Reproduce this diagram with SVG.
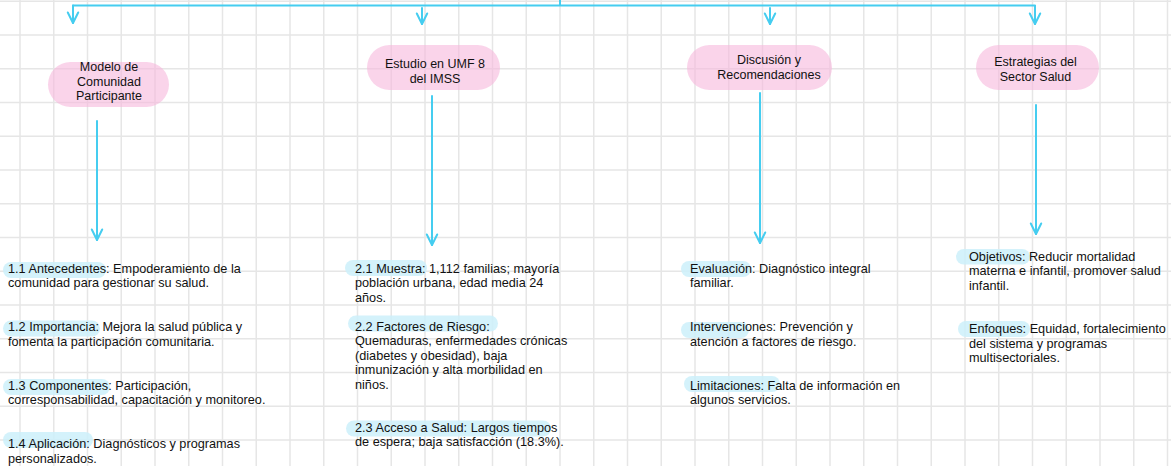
<svg xmlns="http://www.w3.org/2000/svg" width="1171" height="466" viewBox="0 0 1171 466">
<defs>
<style>
.grid{stroke:#e6e6e6;stroke-width:1.5;fill:none}
.conn{stroke:#45cdf0;stroke-width:2;fill:none;stroke-linecap:round;stroke-linejoin:round}
.pill{fill:#f7b8dc;fill-opacity:0.6}
.hl{fill:#cdf0fa;fill-opacity:0.85}
.nt{font-family:"Liberation Sans",Arial,Helvetica,sans-serif;font-size:12.5px;fill:#111111;text-anchor:middle}
.bt{font-family:"Liberation Sans",Arial,Helvetica,sans-serif;font-size:12.7px;fill:#111111}
</style>
<marker id="ah" markerUnits="userSpaceOnUse" markerWidth="14" markerHeight="14" refX="0" refY="0" orient="auto" overflow="visible">
<path d="M-10.5,-5.2 L0,0 L-10.5,5.2" fill="none" stroke="#45cdf0" stroke-width="2" stroke-linecap="round" stroke-linejoin="round"/>
</marker>
</defs>
<rect width="1171" height="466" fill="#ffffff"/>
<path class="grid" d="M20,0V466M53.75,0V466M87.5,0V466M121.25,0V466M155,0V466M188.75,0V466M222.5,0V466M256.25,0V466M290,0V466M323.75,0V466M357.5,0V466M391.25,0V466M425,0V466M458.75,0V466M492.5,0V466M526.25,0V466M560,0V466M593.75,0V466M627.5,0V466M661.25,0V466M695,0V466M728.75,0V466M762.5,0V466M796.25,0V466M830,0V466M863.75,0V466M897.5,0V466M931.25,0V466M965,0V466M998.75,0V466M1032.5,0V466M1066.25,0V466M1100,0V466M1133.75,0V466M1167.5,0V466M0,1.25H1171M0,35H1171M0,68.75H1171M0,102.5H1171M0,136.25H1171M0,170H1171M0,203.75H1171M0,237.5H1171M0,271.25H1171M0,305H1171M0,338.75H1171M0,372.5H1171M0,406.25H1171M0,440H1171"/>
<g id="connectors">
<path class="conn" d="M560,0V5.5M73,5.5H1035V6"/>
<path class="conn" d="M73,5.5V23" marker-end="url(#ah)"/>
<path class="conn" d="M422,8V24" marker-end="url(#ah)"/>
<path class="conn" d="M770,8V24" marker-end="url(#ah)"/>
<path class="conn" d="M1035,6V24" marker-end="url(#ah)"/>
<path class="conn" d="M97,121V240" marker-end="url(#ah)"/>
<path class="conn" d="M432,96V245" marker-end="url(#ah)"/>
<path class="conn" d="M760,93V243" marker-end="url(#ah)"/>
<path class="conn" d="M1036,105V234" marker-end="url(#ah)"/>
</g>
<g id="node-modelo">
<rect class="pill" x="48" y="62" width="121" height="45" rx="22.5"/>
<text class="nt"><tspan x="109" y="71">Modelo de</tspan><tspan x="109" y="85.5">Comunidad</tspan><tspan x="109" y="100">Participante</tspan></text>
</g>
<g id="node-estudio">
<rect class="pill" x="367" y="45" width="133" height="45" rx="22.5"/>
<text class="nt"><tspan x="435" y="68.3">Estudio en UMF 8</tspan><tspan x="435" y="83.3">del IMSS</tspan></text>
</g>
<g id="node-discusion">
<rect class="pill" x="687" y="45" width="145" height="45" rx="22.5"/>
<text class="nt"><tspan x="769" y="64">Discusión y</tspan><tspan x="769" y="78.7">Recomendaciones</tspan></text>
</g>
<g id="node-estrategias">
<rect class="pill" x="976" y="45" width="123" height="45" rx="22.5"/>
<text class="nt"><tspan x="1035.5" y="65.7">Estrategias del</tspan><tspan x="1035.5" y="81">Sector Salud</tspan></text>
</g>
<g id="list-modelo">
<rect class="hl" x="3" y="262" width="103" height="16" rx="8"/>
<rect class="hl" x="3" y="320.5" width="97" height="16" rx="8"/>
<rect class="hl" x="3" y="379" width="107" height="16" rx="8"/>
<rect class="hl" x="3" y="432" width="90" height="16" rx="8"/>
<text class="bt"><tspan x="8" y="272.5">1.1 Antecedentes: Empoderamiento de la</tspan><tspan x="8" y="287">comunidad para gestionar su salud.</tspan></text>
<text class="bt"><tspan x="8" y="331">1.2 Importancia: Mejora la salud pública y</tspan><tspan x="8" y="345.5">fomenta la participación comunitaria.</tspan></text>
<text class="bt"><tspan x="8" y="389.5">1.3 Componentes: Participación,</tspan><tspan x="8" y="404">corresponsabilidad, capacitación y monitoreo.</tspan></text>
<text class="bt"><tspan x="8" y="448">1.4 Aplicación: Diagnósticos y programas</tspan><tspan x="8" y="462.5">personalizados.</tspan></text>
</g>
<g id="list-estudio">
<rect class="hl" x="345" y="260" width="82" height="16" rx="8"/>
<rect class="hl" x="348" y="315.5" width="150" height="16" rx="8"/>
<rect class="hl" x="346" y="420.5" width="205" height="16" rx="8"/>
<text class="bt"><tspan x="355" y="272.5">2.1 Muestra: 1,112 familias; mayoría</tspan><tspan x="355" y="287">población urbana, edad media 24</tspan><tspan x="355" y="301.5">años.</tspan></text>
<text class="bt"><tspan x="355" y="330.5">2.2 Factores de Riesgo:</tspan><tspan x="355" y="345">Quemaduras, enfermedades crónicas</tspan><tspan x="355" y="359.5">(diabetes y obesidad), baja</tspan><tspan x="355" y="374">inmunización y alta morbilidad en</tspan><tspan x="355" y="388.5">niños.</tspan></text>
<text class="bt"><tspan x="355" y="431.7">2.3 Acceso a Salud: Largos tiempos</tspan><tspan x="355" y="446.2">de espera; baja satisfacción (18.3%).</tspan></text>
</g>
<g id="list-discusion">
<rect class="hl" x="681" y="261" width="70" height="16" rx="8"/>
<rect class="hl" x="681" y="322" width="68" height="16" rx="8"/>
<rect class="hl" x="684" y="376" width="96" height="16" rx="8"/>
<text class="bt"><tspan x="690" y="272.5">Evaluación: Diagnóstico integral</tspan><tspan x="690" y="287">familiar.</tspan></text>
<text class="bt"><tspan x="690" y="331">Intervenciones: Prevención y</tspan><tspan x="690" y="345.5">atención a factores de riesgo.</tspan></text>
<text class="bt"><tspan x="690" y="389.5">Limitaciones: Falta de información en</tspan><tspan x="690" y="404">algunos servicios.</tspan></text>
</g>
<g id="list-estrategias">
<rect class="hl" x="956" y="249" width="74" height="15.5" rx="7.75"/>
<rect class="hl" x="958" y="321" width="72" height="16" rx="8"/>
<text class="bt"><tspan x="969" y="260.5">Objetivos: Reducir mortalidad</tspan><tspan x="969" y="275">materna e infantil, promover salud</tspan><tspan x="969" y="289.5">infantil.</tspan></text>
<text class="bt"><tspan x="969" y="333">Enfoques: Equidad, fortalecimiento</tspan><tspan x="969" y="347.5">del sistema y programas</tspan><tspan x="969" y="362">multisectoriales.</tspan></text>
</g>
</svg>
